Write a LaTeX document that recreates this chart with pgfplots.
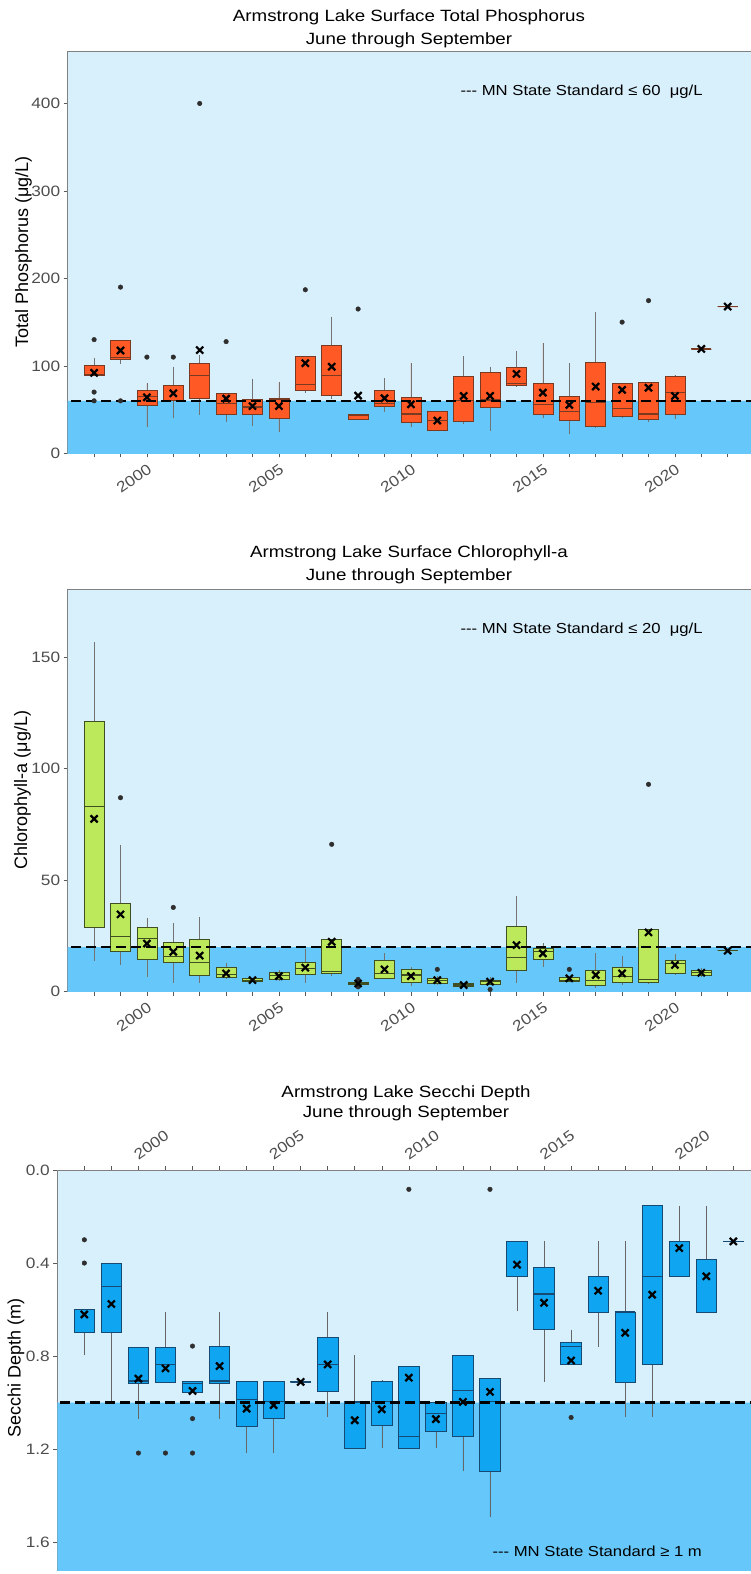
\documentclass[border=0pt]{standalone}
\usepackage{fontspec}
\setmainfont{Liberation Sans}[FakeStretch=1.15]
\newfontfamily\vfont{Liberation Sans}
\usepackage{pgfplots}
\pgfplotsset{compat=1.18}
\usepgfplotslibrary{statistics}
\definecolor{lightbg}{HTML}{D8EFFC}
\definecolor{lowbg}{HTML}{66C8FA}
\definecolor{tpfill}{HTML}{FF5A26}
\definecolor{tpborder}{HTML}{7A3A22}
\definecolor{chfill}{HTML}{BCE95C}
\definecolor{chborder}{HTML}{3F4F22}
\definecolor{sdfill}{HTML}{0FA5F0}
\definecolor{sdborder}{HTML}{174A72}
\definecolor{ptgrey}{HTML}{2E2E2E}
\definecolor{tickgrey}{HTML}{4D4D4D}
% positions: 1 = 1998, ..., 25 = 2022
\newcommand\bx[7]{\addplot[#1, boxplot prepared={draw position=#2, lower whisker=#3, lower quartile=#4, median=#5, upper quartile=#6, upper whisker=#7}] coordinates {};}
\pgfplotsset{
  base/.style={
    scale only axis,
    boxplot/draw direction=y,
    axis background/.style={fill=lightbg},
    axis line style={draw=black!50, line width=0.6pt},
    tick align=outside, major tick length=4pt, minor tick length=4pt,
    tick style={draw=black!65, line width=0.6pt},
    minor tick style={draw=black!65, line width=0.6pt},
    xmin=0,
    xtick={3,8,13,18,23},
    xticklabels={2000,2005,2010,2015,2020},
    minor xtick={1,...,25},
    ticklabel style={font=\fontsize{15}{17}\selectfont, text=tickgrey},
    ytick pos=left,
  },
  bxstyle/.style n args={3}{solid, draw=#2, fill=#1, line width=0.6pt,
    boxplot/box extend=0.76, boxplot/whisker extend=0,
    boxplot/every box/.style={draw=#2, fill=#1, line width=0.7pt},
    boxplot/every whisker/.style={draw=#3, line width=0.6pt},
    boxplot/every median/.style={draw=#2, line width=1.1pt}},
  tp/.style={bxstyle={tpfill}{tpborder}{black!55}},
  ch/.style={bxstyle={chfill}{chborder}{black!55}},
  sd/.style={bxstyle={sdfill}{sdborder}{black!60}},
  outl/.style={only marks, mark=*, mark size=2.3pt, mark options={draw=ptgrey, fill=ptgrey}},
  means/.style={only marks, mark=x, mark size=5pt, mark options={draw=black, line width=2.2pt}},
  stdline/.style={black, line width=2.6pt, dash pattern=on 10pt off 5pt},
}
\begin{document}
\begin{tikzpicture}
\path[use as bounding box] (0pt,0pt) rectangle (751pt,-1574pt);
% ---------- Panel 1 ----------
\node[anchor=base, font=\fontsize{16.3}{19}\selectfont] at (409pt,-21.5pt) {Armstrong Lake Surface Total Phosphorus};
\node[anchor=base, font=\fontsize{16.3}{19}\selectfont] at (409pt,-44.5pt) {June through September};
\node[rotate=90, font=\vfont\fontsize{18}{20}\selectfont] at (23.5pt,-252pt) {Total Phosphorus (μg/L)};
\begin{axis}[base, at={(67.7pt,-453.3pt)}, anchor=south west,
  width=684.3pt, height=402.3pt, xmax=25.92, ymin=0, ymax=460,
  xtick pos=lower,
  ytick={0,100,200,300,400}, yticklabels={0,100,200,300,400},
  xticklabel style={rotate=35, anchor=north east, yshift=-1pt}]
\addplot[fill=lowbg, draw=none] coordinates {(-1,-10) (27,-10) (27,60) (-1,60) (-1,-10)};
\bx{tp}{1}{89.6}{89.6}{90.5}{100}{109}
\bx{tp}{2}{102}{107}{110}{129.6}{129.6}
\bx{tp}{3}{30}{55.3}{65}{72.5}{80}
\bx{tp}{4}{40}{60}{60}{77.4}{99}
\bx{tp}{5}{44}{63}{88.5}{102.6}{112}
\bx{tp}{6}{36}{45}{57}{68}{68}
\bx{tp}{7}{31}{45}{53}{62}{85.4}
\bx{tp}{8}{24}{40}{61.5}{63}{81}
\bx{tp}{9}{69}{72}{79}{111}{111}
\bx{tp}{10}{62}{66}{88.5}{123}{156}
\bx{tp}{11}{39}{39}{43}{45}{45}
\bx{tp}{12}{47.7}{53.4}{57}{72.5}{86}
\bx{tp}{13}{29.7}{35.5}{45}{63.7}{103.7}
\bx{tp}{14}{26}{26}{37.4}{47.7}{47.7}
\bx{tp}{15}{34}{36}{60}{88.5}{111}
\bx{tp}{16}{26}{52.6}{61}{93}{99}
\bx{tp}{17}{76}{77.4}{80}{98.4}{117.4}
\bx{tp}{18}{40}{45}{55.3}{80}{126.6}
\bx{tp}{19}{22}{37.4}{47.7}{64.8}{103}
\bx{tp}{20}{30}{30.5}{58}{103.7}{162}
\bx{tp}{21}{40}{42.7}{51.5}{80}{80}
\bx{tp}{22}{36}{39.3}{45}{80.8}{80.8}
\bx{tp}{23}{39}{45}{69.8}{87.7}{89.6}
\bx{tp}{24}{119.4}{119.4}{119.4}{119.4}{119.4}
\bx{tp}{25}{167.8}{167.8}{167.8}{167.8}{167.8}
\addplot[outl] coordinates {(1,130) (1,70) (1,60) (2,190) (2,60) (3,110) (4,110) (5,400) (6,127.7) (9,187) (11,165) (21,150) (22,174.6)};
\addplot[stdline] coordinates {(-1,60) (27,60)};
\addplot[means] coordinates {(1,92) (2,117.5) (3,64) (4,68.6) (5,118) (6,62.5) (7,54) (8,54) (9,103) (10,99) (11,66) (12,63) (13,56) (14,37.4) (15,65.6) (16,65.6) (17,90.8) (18,69.4) (19,55.3) (20,76.3) (21,72.5) (22,75) (23,65.6) (24,119.4) (25,167.8)};
\end{axis}
\node[anchor=west, font=\fontsize{14.5}{16}\selectfont] at (457pt,-91.7pt) {-{}-{}- MN State Standard ≤ 60~~μg/L};
% ---------- Panel 2 ----------
\node[anchor=base, font=\fontsize{16.3}{19}\selectfont] at (409pt,-557pt) {Armstrong Lake Surface Chlorophyll-a};
\node[anchor=base, font=\fontsize{16.3}{19}\selectfont] at (409pt,-580pt) {June through September};
\node[rotate=90, font=\vfont\fontsize{18}{20}\selectfont] at (22.5pt,-790pt) {Chlorophyll-a (μg/L)};
\begin{axis}[base, at={(67.7pt,-991.7pt)}, anchor=south west,
  width=684.3pt, height=402.7pt, xmax=25.92, ymin=0, ymax=180.6,
  xtick pos=lower,
  ytick={0,50,100,150}, yticklabels={0,50,100,150},
  xticklabel style={rotate=35, anchor=north east, yshift=-1pt}]
\addplot[fill=lowbg, draw=none] coordinates {(-1,-10) (27,-10) (27,20) (-1,20) (-1,-10)};
\bx{ch}{1}{13.9}{28.9}{83}{121.1}{156.7}
\bx{ch}{2}{12}{18.2}{24.7}{39.6}{65.8}
\bx{ch}{3}{6.7}{14.6}{24}{28.9}{32.9}
\bx{ch}{4}{3.7}{13.3}{15.6}{22}{30.7}
\bx{ch}{5}{3.7}{7.5}{13}{23.6}{33.6}
\bx{ch}{6}{5.5}{6.3}{7.9}{10.9}{12.7}
\bx{ch}{7}{4.5}{4.5}{5.2}{6}{6}
\bx{ch}{8}{5}{5.5}{7.3}{8.5}{9.7}
\bx{ch}{9}{3.7}{7.9}{10.5}{13}{19}
\bx{ch}{10}{7}{8.2}{9}{23.5}{23.5}
\bx{ch}{11}{3.3}{3.3}{3.7}{4}{4}
\bx{ch}{12}{6}{6}{8.2}{14.2}{17.2}
\bx{ch}{13}{2.5}{4.2}{7.5}{10}{11.2}
\bx{ch}{14}{3}{3.7}{4.9}{6}{7}
\bx{ch}{15}{2.2}{2.2}{3}{3.7}{3.7}
\bx{ch}{16}{3.4}{3.4}{4.5}{5.2}{6.4}
\bx{ch}{17}{4}{9.7}{15.3}{29.2}{42.9}
\bx{ch}{18}{11.2}{14.5}{17.9}{19.4}{21.7}
\bx{ch}{19}{4.5}{4.5}{4.8}{6.4}{6.4}
\bx{ch}{20}{1.5}{2.7}{4.9}{9.4}{17.5}
\bx{ch}{21}{3}{4}{6.7}{10.9}{16}
\bx{ch}{22}{3.5}{4}{5.5}{28}{28}
\bx{ch}{23}{7.5}{8.2}{12.7}{13.9}{16.9}
\bx{ch}{24}{7}{7.2}{8.5}{9.7}{10.5}
\bx{ch}{25}{18.4}{18.4}{18.4}{18.4}{18.4}
\addplot[outl] coordinates {(2,87) (4,37.8) (10,66.1) (11,5.5) (11,2.2) (14,10) (16,1) (19,10) (22,93)};
\addplot[stdline] coordinates {(-1,20) (27,20)};
\addplot[means] coordinates {(1,77.5) (2,34.7) (3,21.6) (4,17.9) (5,16.2) (6,8.2) (7,5.2) (8,7) (9,10.8) (10,22.4) (11,3.7) (12,10) (13,7) (14,5.2) (15,3) (16,4.5) (17,20.9) (18,17.2) (19,6) (20,7.5) (21,8.2) (22,26.6) (23,12) (24,8.5) (25,18.4)};
\end{axis}
\node[anchor=west, font=\fontsize{14.5}{16}\selectfont] at (457pt,-630pt) {-{}-{}- MN State Standard ≤ 20~~μg/L};
% ---------- Panel 3 ----------
\node[anchor=base, font=\fontsize{16.3}{19}\selectfont] at (406pt,-1097.5pt) {Armstrong Lake Secchi Depth};
\node[anchor=base, font=\fontsize{16.3}{19}\selectfont] at (406pt,-1117pt) {June through September};
\node[rotate=90, font=\vfont\fontsize{18}{20}\selectfont] at (16pt,-1368pt) {Secchi Depth (m)};
\begin{axis}[base, at={(57.3pt,-1170pt)}, anchor=north west,
  width=694.7pt, height=400pt, xmax=25.69, ymin=0, ymax=1.72,
  y dir=reverse,
  xtick pos=upper, xticklabel pos=upper,
  ytick={0,0.4,0.8,1.2,1.6}, yticklabels={0.0,0.4,0.8,1.2,1.6},
  xticklabel style={rotate=35, anchor=south west, yshift=1pt}]
\addplot[fill=lowbg, draw=none] coordinates {(-1,1) (27,1) (27,2) (-1,2) (-1,1)};
\bx{sd}{1}{0.597}{0.597}{0.6}{0.7}{0.797}
\bx{sd}{2}{0.4}{0.4}{0.5}{0.7}{0.997}
\bx{sd}{3}{0.761}{0.761}{0.907}{0.917}{1.069}
\bx{sd}{4}{0.61}{0.761}{0.836}{0.911}{0.911}
\bx{sd}{5}{0.907}{0.907}{0.917}{0.954}{0.954}
\bx{sd}{6}{0.61}{0.76}{0.907}{0.917}{1.069}
\bx{sd}{7}{0.91}{0.91}{0.986}{1.104}{1.217}
\bx{sd}{8}{0.907}{0.907}{0.997}{1.069}{1.217}
\bx{sd}{9}{0.911}{0.911}{0.911}{0.911}{0.911}
\bx{sd}{10}{0.61}{0.721}{0.836}{0.95}{1.064}
\bx{sd}{11}{0.797}{0.997}{0.997}{1.196}{1.196}
\bx{sd}{12}{0.903}{0.91}{0.997}{1.1}{1.196}
\bx{sd}{13}{0.843}{0.843}{1.147}{1.197}{1.197}
\bx{sd}{14}{0.997}{0.997}{1.047}{1.124}{1.196}
\bx{sd}{15}{0.797}{0.797}{0.947}{1.147}{1.296}
\bx{sd}{16}{0.897}{0.897}{0.997}{1.296}{1.493}
\bx{sd}{17}{0.307}{0.307}{0.307}{0.457}{0.607}
\bx{sd}{18}{0.307}{0.419}{0.533}{0.683}{0.911}
\bx{sd}{19}{0.686}{0.74}{0.76}{0.836}{0.836}
\bx{sd}{20}{0.307}{0.457}{0.457}{0.61}{0.76}
\bx{sd}{21}{0.307}{0.61}{0.61}{0.911}{1.064}
\bx{sd}{22}{0.154}{0.154}{0.457}{0.836}{1.064}
\bx{sd}{23}{0.154}{0.307}{0.307}{0.457}{0.457}
\bx{sd}{24}{0.154}{0.383}{0.383}{0.61}{0.61}
\bx{sd}{25}{0.307}{0.307}{0.307}{0.307}{0.307}
\addplot[outl] coordinates {(1,0.3) (1,0.4) (3,1.217) (4,1.217) (5,0.757) (5,1.069) (5,1.217) (13,0.083) (16,0.083) (19,1.064)};
\addplot[stdline] coordinates {(-1,1) (27,1)};
\addplot[means] coordinates {(1,0.621) (2,0.576) (3,0.897) (4,0.853) (5,0.95) (6,0.843) (7,1.026) (8,1.011) (9,0.911) (10,0.836) (11,1.076) (12,1.029) (13,0.893) (14,1.071) (15,0.997) (16,0.954) (17,0.407) (18,0.571) (19,0.819) (20,0.519) (21,0.7) (22,0.536) (23,0.336) (24,0.457) (25,0.307)};
\end{axis}
\node[anchor=west, font=\fontsize{14.5}{16}\selectfont] at (489pt,-1551.7pt) {-{}-{}- MN State Standard ≥ 1 m};
\end{tikzpicture}
\end{document}
